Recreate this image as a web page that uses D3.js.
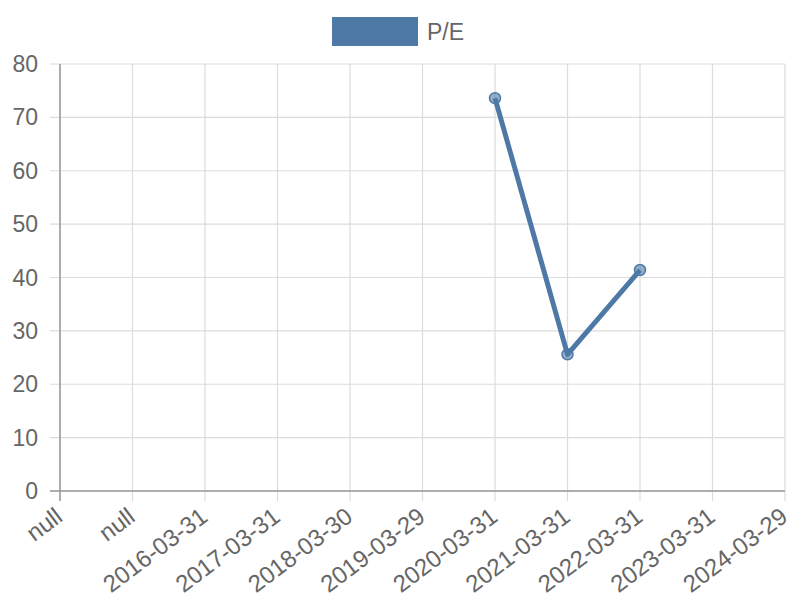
<!DOCTYPE html>
<meta charset="utf-8">
<style>
body { margin: 0; background: #fff; }
text { font-family: "Liberation Sans", Arial, sans-serif; fill: #666; }
.grid line { stroke: #dcdcdc; stroke-width: 1.2px; }
</style>
<svg width="800" height="600"></svg>
<script src="https://d3js.org/d3.v7.min.js"></script>
<script>

var labels = ["null", "null", "2016-03-31", "2017-03-31", "2018-03-30", "2019-03-29",
              "2020-03-31", "2021-03-31", "2022-03-31", "2023-03-31", "2024-03-29"];
var pe = [null, null, null, null, null, null, 73.6, 25.6, 41.4, null, null];
var yTicks = [0, 10, 20, 30, 40, 50, 60, 70, 80];
var seriesName = "P/E";

var color = "#4e79a7";
var svg = d3.select("svg");
var plotL = 60, plotR = 785, plotT = 64, plotB = 491;

var x = d3.scalePoint().domain(d3.range(labels.length)).range([plotL, plotR]);
var y = d3.scaleLinear().domain([0, 80]).range([plotB, plotT]);

// horizontal grid + y labels
var gy = svg.append("g").attr("class", "grid");
gy.selectAll("line").data(yTicks).enter().append("line")
    .attr("x1", plotL - 10).attr("x2", plotR)
    .attr("y1", function(d) { return y(d); }).attr("y2", function(d) { return y(d); });
svg.append("g").selectAll("text").data(yTicks).enter().append("text")
    .attr("x", plotL - 22).attr("y", function(d) { return y(d); })
    .attr("dy", "0.35em").attr("text-anchor", "end")
    .style("font-size", "23px")
    .text(function(d) { return d; });

// vertical grid + x labels
var gx = svg.append("g").attr("class", "grid");
gx.selectAll("line").data(d3.range(labels.length)).enter().append("line")
    .attr("x1", function(i) { return x(i); }).attr("x2", function(i) { return x(i); })
    .attr("y1", plotT).attr("y2", plotB + 10);
svg.append("g").selectAll("text").data(labels).enter().append("text")
    .attr("transform", function(d, i) { return "translate(" + (x(i) - 1) + "," + (plotB + 22) + ") rotate(-37)"; })
    .attr("text-anchor", "end")
    .attr("dy", "0.35em")
    .style("font-size", "24px")
    .text(function(d) { return d; });

// axes lines
svg.append("line").attr("x1", plotL).attr("x2", plotL).attr("y1", plotT).attr("y2", plotB + 10)
    .attr("stroke", "#999").attr("stroke-width", 1.5);
svg.append("line").attr("x1", plotL - 10).attr("x2", plotR).attr("y1", plotB).attr("y2", plotB)
    .attr("stroke", "#999").attr("stroke-width", 1.5);

// line
var line = d3.line()
    .defined(function(d) { return d != null; })
    .x(function(d, i) { return x(i); })
    .y(function(d) { return y(d); });
svg.append("path").datum(pe)
    .attr("d", line)
    .attr("fill", "none").attr("stroke", color).attr("stroke-width", 5)
    .attr("stroke-linejoin", "round");

var pts = pe.map(function(v, i) { return {v: v, i: i}; }).filter(function(d) { return d.v != null; });
svg.append("g").selectAll("circle").data(pts).enter().append("circle")
    .attr("cx", function(d) { return x(d.i); })
    .attr("cy", function(d) { return y(d.v); })
    .attr("r", 5.5)
    .attr("fill", "rgba(78,121,167,0.6)")
    .attr("stroke", color).attr("stroke-width", 1.5);

// legend
svg.append("rect").attr("x", 332).attr("y", 17).attr("width", 86).attr("height", 29)
    .attr("fill", color);
svg.append("text").attr("x", 427).attr("y", 32).attr("dy", "0.35em")
    .style("font-size", "23px").text(seriesName);

</script>
